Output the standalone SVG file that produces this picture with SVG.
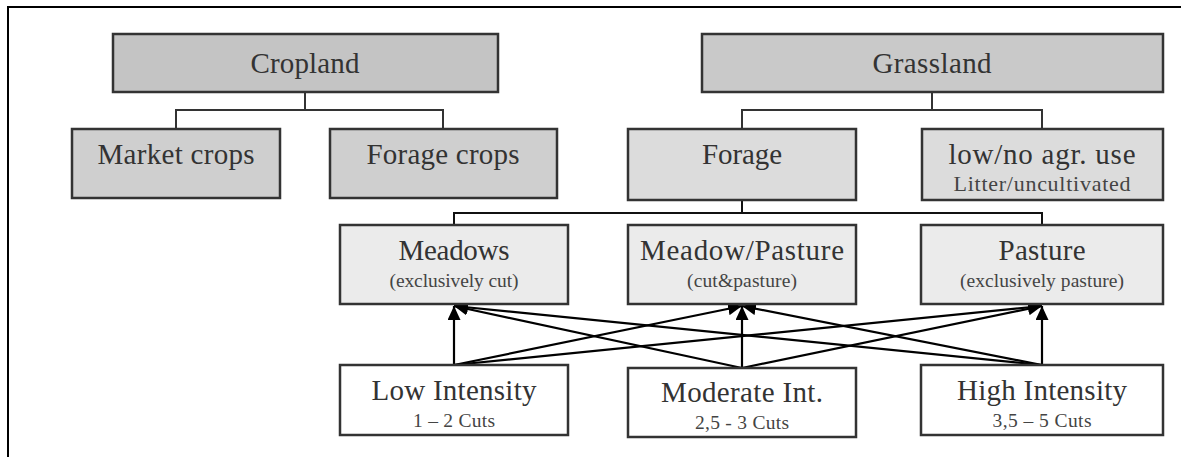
<svg xmlns="http://www.w3.org/2000/svg" width="1181" height="457" viewBox="0 0 1181 457">
<style>
text{font-family:"Liberation Serif","Times New Roman",serif;fill:#333;text-anchor:middle}
.main{font-size:29px}
.sub{font-size:19.5px;fill:#444}
.sub2{font-size:22px;fill:#444}
.b1{stroke:#333;stroke-width:2.5}
.tree{fill:none;stroke:#333;stroke-width:2}
.tree2{fill:none;stroke:#111;stroke-width:2}
.arr{fill:none;stroke:#000;stroke-width:2.2;marker-end:url(#ah)}
</style>
<defs>
<marker id="ah" markerUnits="userSpaceOnUse" markerWidth="15" markerHeight="13" refX="14" refY="6.5" orient="auto">
<path d="M0,0 L14,6.5 L0,13 Z" fill="#000"/>
</marker>
</defs>
<rect width="1181" height="457" fill="#fff"/>
<g id="frame" fill="none" stroke="#000" stroke-width="2">
<path d="M8,457 V7 H1181"/>
</g>
<g id="connectors">
<path class="tree" d="M305,92 V110 M176,129 V110 H443 V129"/>
<path class="tree" d="M932,92 V110 M742,129 V110 H1042 V129"/>
<path class="tree2" d="M742,200 V213 M454,225 V213 H1042 V225"/>
<line class="arr" x1="454" y1="365" x2="454" y2="306"/>
<line class="arr" x1="454" y1="365" x2="742" y2="306"/>
<line class="arr" x1="454" y1="365" x2="1042" y2="306"/>
<line class="arr" x1="742" y1="368" x2="454" y2="306"/>
<line class="arr" x1="742" y1="368" x2="742" y2="306"/>
<line class="arr" x1="742" y1="368" x2="1042" y2="306"/>
<line class="arr" x1="1042" y1="365" x2="454" y2="306"/>
<line class="arr" x1="1042" y1="365" x2="742" y2="306"/>
<line class="arr" x1="1042" y1="365" x2="1042" y2="306"/>
</g>
<g id="cropland">
<rect class="b1" x="113" y="34" width="385" height="58" fill="#c4c4c4"/>
<text class="main" x="305" y="73" textLength="109">Cropland</text>
</g>
<g id="grassland">
<rect class="b1" x="702" y="34" width="461" height="58" fill="#c9c9c9"/>
<text class="main" x="932" y="73" textLength="119">Grassland</text>
</g>
<g id="market-crops">
<rect class="b1" x="72" y="129" width="208" height="69" fill="#cfcfcf"/>
<text class="main" x="176" y="164" textLength="157">Market crops</text>
</g>
<g id="forage-crops">
<rect class="b1" x="330" y="129" width="227" height="69" fill="#cfcfcf"/>
<text class="main" x="443" y="164" textLength="153">Forage crops</text>
</g>
<g id="forage">
<rect class="b1" x="628" y="129" width="228" height="71" fill="#dcdcdc"/>
<text class="main" x="742" y="164" textLength="80">Forage</text>
</g>
<g id="low-no-agr-use">
<rect class="b1" x="922" y="129" width="241" height="71" fill="#dcdcdc"/>
<text class="main" x="1042" y="164" textLength="187">low/no agr. use</text>
<text class="sub2" x="1042" y="191" textLength="177">Litter/uncultivated</text>
</g>
<g id="meadows">
<rect class="b1" x="340" y="225" width="228" height="79" fill="#ebebeb"/>
<text class="main" x="454" y="260" textLength="111">Meadows</text>
<text class="sub" x="454" y="287" textLength="129">(exclusively cut)</text>
</g>
<g id="meadow-pasture">
<rect class="b1" x="628" y="225" width="228" height="79" fill="#ebebeb"/>
<text class="main" x="742" y="260" textLength="204">Meadow/Pasture</text>
<text class="sub" x="742" y="287" textLength="110">(cut&amp;pasture)</text>
</g>
<g id="pasture">
<rect class="b1" x="921" y="225" width="242" height="79" fill="#ebebeb"/>
<text class="main" x="1042" y="260" textLength="87">Pasture</text>
<text class="sub" x="1042" y="287" textLength="164">(exclusively pasture)</text>
</g>
<g id="low-intensity">
<rect class="b1" x="340" y="365" width="228" height="70" fill="#fff"/>
<text class="main" x="454" y="400" textLength="165">Low Intensity</text>
<text class="sub" x="454" y="427" textLength="82">1 – 2 Cuts</text>
</g>
<g id="moderate-int">
<rect class="b1" x="628" y="368" width="228" height="69" fill="#fff"/>
<text class="main" x="742" y="402" textLength="162">Moderate Int.</text>
<text class="sub" x="742" y="429" textLength="94">2,5 - 3 Cuts</text>
</g>
<g id="high-intensity">
<rect class="b1" x="921" y="365" width="242" height="70" fill="#fff"/>
<text class="main" x="1042" y="400" textLength="170">High Intensity</text>
<text class="sub" x="1042" y="427" textLength="99">3,5 – 5 Cuts</text>
</g>
</svg>
